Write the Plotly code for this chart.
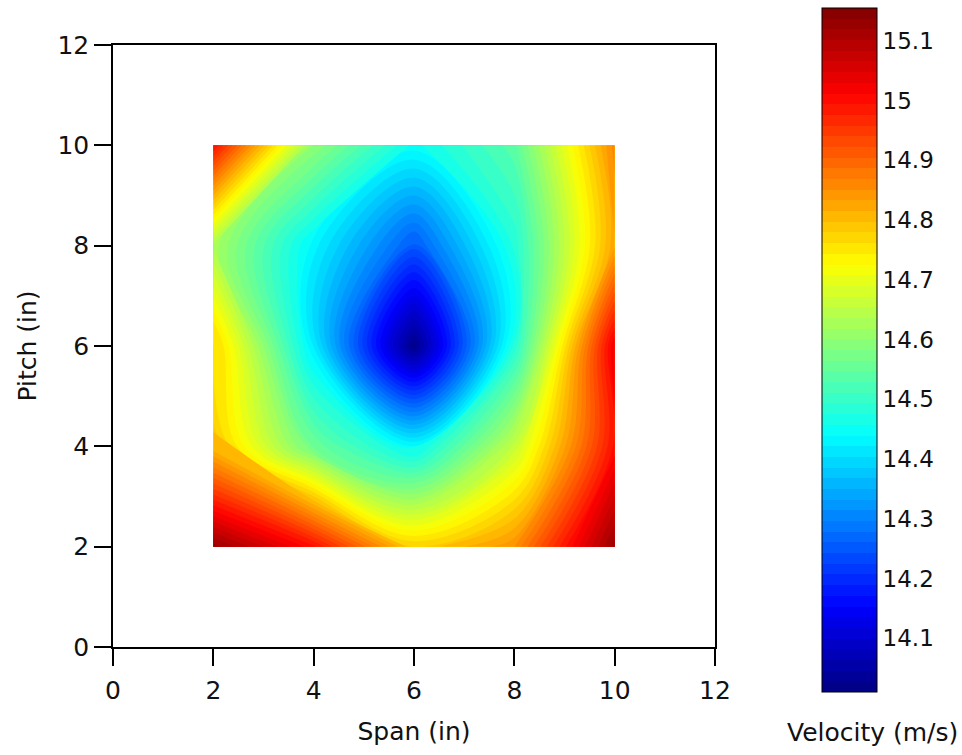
import plotly.graph_objects as go

# Measurement grid (inches)
span_in = [2, 4, 6, 8, 10]
pitch_in = [2, 4, 6, 8, 10]

# Velocity (m/s); rows follow pitch_in (bottom to top), columns follow span_in
velocity = [
    [15.13, 15.00, 14.78, 14.85, 15.13],  # pitch 2
    [14.80, 14.56, 14.44, 14.66, 15.00],  # pitch 4
    [14.78, 14.42, 14.02, 14.48, 15.03],  # pitch 6
    [14.63, 14.43, 14.25, 14.48, 14.83],  # pitch 8
    [15.00, 14.60, 14.45, 14.54, 14.86],  # pitch 10
]

axis_ticks = [0, 2, 4, 6, 8, 10, 12]
cbar_ticks = [14.1, 14.2, 14.3, 14.4, 14.5, 14.6, 14.7, 14.8, 14.9, 15.0, 15.1]
cbar_labels = ["14.1", "14.2", "14.3", "14.4", "14.5", "14.6", "14.7",
               "14.8", "14.9", "15", "15.1"]
vmin, vmax = 14.01, 15.155

jet = [
    [0.0, "rgb(0,0,128)"],
    [0.125, "rgb(0,0,255)"],
    [0.375, "rgb(0,255,255)"],
    [0.625, "rgb(255,255,0)"],
    [0.875, "rgb(255,0,0)"],
    [1.0, "rgb(128,0,0)"],
]

FONT = "DejaVu Sans"
TXT = "#111111"

fig = go.Figure()
fig.add_trace(go.Contour(
    x=span_in, y=pitch_in, z=velocity,
    colorscale=jet, zmin=vmin, zmax=vmax, zauto=False,
    contours=dict(start=vmin, end=vmax, size=(vmax - vmin) / 64, coloring="fill"),
    line=dict(width=0),
    colorbar=dict(
        x=(822 - 113) / 602, xanchor="left", xref="paper", xpad=0,
        y=(647 - 8) / 602, yanchor="top", yref="paper", ypad=0,
        len=684, lenmode="pixels",
        thickness=55, thicknessmode="pixels",
        outlinewidth=1, outlinecolor="black",
        tickvals=cbar_ticks, ticktext=cbar_labels,
        ticks="", tickfont=dict(family=FONT, size=23, color=TXT),
    ),
))

axis_common = dict(
    range=[0, 12], tickvals=axis_ticks, ticks="outside", ticklen=17,
    tickcolor="black", tickwidth=1.5, showline=True, linecolor="black",
    linewidth=1.5, mirror=True, showgrid=False, zeroline=False,
    automargin=False,
    tickfont=dict(family=FONT, size=25, color=TXT),
)

fig.update_layout(
    width=962, height=755,
    margin=dict(l=113, r=247, t=45, b=108, autoexpand=False),
    paper_bgcolor="white", plot_bgcolor="white",
    xaxis=dict(**axis_common, ticklabelstandoff=3,
               title=dict(text="Span (in)", standoff=19,
                          font=dict(family=FONT, size=25, color=TXT))),
    yaxis=dict(**axis_common,
               title=dict(text="Pitch (in)", standoff=14,
                          font=dict(family=FONT, size=25, color=TXT))),
    annotations=[dict(
        text="Velocity (m/s)", xref="paper", yref="paper",
        x=(872 - 113) / 602, y=(647 - 732) / 602,
        xanchor="center", yanchor="middle", showarrow=False,
        font=dict(family=FONT, size=25, color=TXT),
    )],
)

fig.write_html("out.html")
